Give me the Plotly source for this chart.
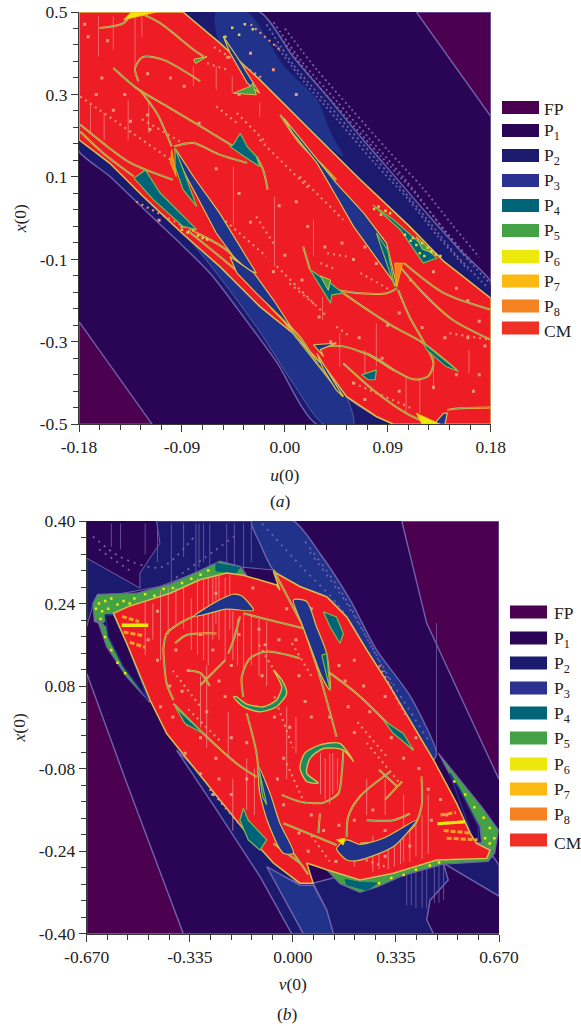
import plotly.graph_objects as go

# All coordinates are (initial velocity, initial displacement) in thousandths.
W, H = 581, 1026
LEGEND_LABELS = ["FP", "P<sub>1</sub>", "P<sub>2</sub>", "P<sub>3</sub>", "P<sub>4</sub>", "P<sub>5</sub>", "P<sub>6</sub>", "P<sub>7</sub>", "P<sub>8</sub>", "CM"]
LEGEND_COLORS = ["#4b0050", "#2a0555", "#1c1a6e", "#2a3190", "#006478", "#45a145", "#ece80c", "#fdb913", "#f58220", "#ee3124"]
FP, P1, P2, _P3, P4, P5, P6, P7, P8 = LEGEND_COLORS[:9]
P3 = "#20328a"
CM = "#ee1c25"
LAV = "#6f62a8"

# ---------- panel (a) ----------
A_XTICKS = [-0.18, -0.09, 0.0, 0.09, 0.18]
A_XLABELS = ["-0.18", "-0.09", "0.00", "0.09", "0.18"]
A_YTICKS = [0.5, 0.3, 0.1, -0.1, -0.3, -0.5]
A_YLABELS = ["0.5", "0.3", "0.1", "-0.1", "-0.3", "-0.5"]
A_FP1 = [(115, 500), (180, 500), (180, 247)]
A_FP2 = [(-180, -251), (-180, -500), (-116, -500)]
A_UP2 = [(-89, 500), (-22, 500), (7, 392), (37, 295), (66, 198), (95, 105), (124, 12), (153, -77), (180, -154), (180, -194), (139, -105), (109, -20), (66, 93), (25, 206), (-22, 336), (-57, 425)]
A_UP3 = [(-60, 500), (-33, 500), (-1, 368), (28, 287), (40, 206), (51, 150), (25, 206), (-22, 336), (-57, 425)]
A_LO2 = [(-180, 190), (-153, 133), (-124, 53), (-90, -36), (-57, -117), (-22, -214), (7, -279), (37, -368), (54, -433), (80, -481), (95, -500), (28, -500), (-7, -350), (-36, -240), (-65, -135), (-95, -52), (-124, 24), (-153, 101), (-180, 162)]
A_LO3 = [(-109, 12), (-80, -64), (-51, -165), (-22, -275), (7, -400), (34, -500), (60, -500), (54, -433), (37, -368), (7, -279), (-22, -214), (-57, -117), (-90, -36)]
A_CM = [(-180, 500), (-89, 500), (-57, 425), (-22, 336), (25, 206), (66, 93), (109, -20), (139, -105), (180, -194), (180, -500), (95, -500), (80, -481), (54, -433), (37, -368), (7, -279), (-22, -214), (-57, -117), (-90, -36), (-124, 53), (-153, 133), (-180, 190)]
A_BLUE = [
    [(-96, 170), (-80, 101), (-57, 12), (-39, -69), (-25, -133), (-33, -125), (-45, -93), (-60, -36), (-74, 36), (-86, 101), (-95, 154)],
    [(-1, 243), (28, 142), (45, 85), (69, 12), (89, -61), (98, -166), (77, -85), (60, -20), (45, 53), (28, 134), (7, 206)],
    [(-48, -93), (-27, -133), (-10, -198), (7, -271), (-4, -239), (-25, -182), (-42, -133)],
    [(25, -307), (45, -303), (31, -319), (34, -336)],
    [(28, -328), (51, -433), (45, -417), (34, -368)],
    [(-54, 441), (-42, 392), (-22, 303), (-33, 328), (-48, 401)],
    [(139, -473), (142, -473), (140, -500), (130, -500)],
]
A_TEAL = [
    [(-96, 170), (-84, 77), (-77, 28), (-89, 69), (-96, 125)],
    [(-132, 97), (-122, 117), (-109, 61), (-77, -28), (-89, -20), (-115, 45)],
    [(77, 32), (95, -4), (133, -97), (121, -109), (101, -28)],
    [(22, -125), (40, -158), (51, -182), (41, -186), (40, -206), (31, -166)],
    [(-45, 178), (-39, 206), (-33, 174), (-25, 150), (-22, 125), (-36, 150), (-48, 174)],
    [(67, -380), (80, -368), (79, -392), (73, -392)],
    [(121, -303), (152, -372), (141, -360), (124, -319)],
    [(80, -36), (90, -77), (96, -166), (89, -109)],
    [(-150, 364), (-130, 316), (-134, 328)],
]
A_GREEN = [
    [(-45, 303), (-30, 320), (-28, 328), (-25, 299)],
    [(-80, 385), (-68, 392), (-78, 375)],
    [(115, -45), (130, -85), (120, -75)],
    [(31, -140), (40, -150), (38, -175)],
]
A_YELLOW = [[(-141, 481), (-134, 500), (-112, 500), (-127, 490)], [(115, -473), (136, -500), (120, -500)]]
A_ORANGE = [[(-99, 166), (-95, 101), (-100, 133)], [(96, -109), (103, -109), (98, -166)]]
A_CURVES = [
    [(-150, 364), (-130, 316), (-103, 271), (-74, 223), (-45, 174)],
    [(-128, 332), (-131, 364), (-124, 391), (-106, 384), (-74, 332)],
    [(-127, 312), (-112, 255), (-99, 174)],
    [(-97, 174), (-80, 182), (-57, 154), (-33, 134)],
    [(-25, 150), (-19, 117), (-15, 69)],
    [(16, -69), (22, -125)],
    [(51, -182), (72, -222), (95, -263), (121, -303), (150, -368)],
    [(45, -174), (66, -182), (89, -182), (98, -170)],
    [(99, -174), (109, -239), (122, -303), (130, -352), (125, -384), (112, -391), (95, -368), (72, -328)],
    [(-179, 227), (-159, 182), (-135, 134), (-98, 93)],
    [(-179, 210), (-159, 158), (-132, 101)],
    [(-77, -36), (-51, -77), (-22, -166), (4, -267), (28, -352), (51, -433)],
    [(-85, -30), (-57, -93), (-33, -150), (-10, -223), (13, -288), (28, -352)],
    [(51, -352), (77, -416), (106, -473), (124, -497)],
    [(-162, 461), (-141, 473), (-134, 498)],
    [(-127, 498), (-109, 473), (-80, 409), (-71, 392)],
    [(-4, 251), (13, 182), (34, 125), (45, 93)],
    [(98, -109), (121, -182), (147, -247), (180, -295)],
    [(104, -109), (139, -182), (180, -222)],
    [(142, -465), (153, -461), (180, -459)],
    [(30, -311), (51, -311), (80, -340), (95, -368)],
]
A_DOTTED = [
    [(-60, 271), (-42, 231)], [(-42, 255), (-16, 182)], [(-22, 190), (22, 69)], [(13, 101), (51, -4)],
    [(-25, 4), (-10, -61)], [(-60, 12), (-16, -93)], [(-7, -117), (37, -239)], [(4, -158), (28, -214)],
    [(45, -263), (57, -287)], [(-179, 295), (-100, 142)], [(66, -133), (92, -174)], [(-68, 376), (-51, 360)],
    [(37, -85), (54, -93)], [(31, -109), (45, -125)], [(144, -279), (180, -295)], [(-125, 240), (-85, 175)],
    [(-62, 415), (-20, 340)], [(-30, 470), (-5, 410)], [(-130, 40), (-60, -60)], [(60, -400), (110, -460)],
]
A_NOISE = [
    [(-10, 475), (15, 380), (45, 285), (75, 190), (105, 95), (130, 5), (155, -85), (180, -160)],
    [(-16, 470), (8, 370), (38, 275), (68, 180), (98, 85), (125, -5), (150, -90), (178, -170)],
    [(-4, 440), (22, 345), (52, 250), (84, 150), (114, 60), (140, -30), (165, -110)],
    [(-8, 420), (17, 330), (47, 235), (78, 135), (108, 45), (134, -45), (160, -125)],
    [(0, 460), (28, 360), (58, 265), (90, 165), (120, 75), (146, -15), (170, -95)],
]
A_SPECK = [(82, 28), (78, 22), (88, 18), (92, 12), (84, 8), (110, -55), (115, -65), (120, -60), (125, -72), (128, -80), (118, -85), (132, -88), (136, -92), (122, -92), (105, -40), (112, -48), (-85, -35), (-80, -30), (-76, -42), (-72, -48), (-90, -28), (-68, -52), (-52, 440), (-46, 462), (-40, 445), (-35, 470), (-28, 458)]
A_DOTS = [(-165, 300), (-150, 262), (-135, 235), (-118, 215), (-160, 340), (-140, 300), (-120, 250), (-75, 230), (-50, 390), (-30, 400), (-10, 360), (-40, 300), (10, 300), (-60, 120), (-40, 60), (-30, -10), (-5, 30), (10, 40), (20, -20), (35, -70), (50, -60), (70, -70), (60, -100), (80, -110), (85, -50), (75, -30), (110, -150), (130, -130), (150, -170), (160, -200), (170, -250), (100, -230), (90, -260), (120, -265), (140, -290), (160, -290), (175, -310), (170, -380), (165, -420), (150, -380), (130, -410), (100, -420), (70, -440), (60, -400), (30, -240), (40, -300), (65, -290), (85, -340), (-90, -20), (-110, -5), (-30, -150), (-10, -130), (0, -90), (15, -150), (-172, 440), (-175, 470), (-155, 430), (-120, 350), (-100, 340), (-88, 320)]
A_STREAKS = [(-163, 490, 392), (-150, 490, 409), (-131, 490, 368), (-125, 490, 440), (-119, 287, 206), (-80, 368, 320), (-60, 368, 312), (-46, 344, 303), (-45, 125, -20), (-9, 52, -117), (25, -4, -93), (33, -190, -247), (48, -279, -360), (70, -319, -380), (80, -255, -360), (106, -384, -473), (118, -392, -473), (130, -336, -416), (161, -319, -376), (-22, 280, 247), (-170, 280, 206), (-158, 255, 190), (-137, 287, 190)]

# ---------- panel (b) ----------
B_XTICKS = [-0.67, -0.335, 0.0, 0.335, 0.67]
B_XLABELS = ["-0.670", "-0.335", "0.000", "0.335", "0.670"]
B_YTICKS = [0.40, 0.24, 0.08, -0.08, -0.24, -0.40]
B_YLABELS = ["0.40", "0.24", "0.08", "-0.08", "-0.24", "-0.40"]
B_FP1 = [(354, 400), (670, 400), (670, -101), (565, 34), (435, 202)]
B_FP2 = [(-670, 105), (-540, -108), (-356, -400), (-670, -400)]
B_P2T = [(-443, 400), (-432, 357), (-497, 299), (-497, 270), (-670, 328), (-670, 195), (-643, 250), (-432, 273), (-248, 315), (-63, 305), (-107, 357), (-134, 400)]
B_P3T = [(-134, 400), (2, 400), (88, 337), (186, 247), (272, 150), (381, 61), (467, -50), (457, -63), (392, 1), (316, 79), (240, 150), (175, 214), (110, 253), (23, 273), (-63, 305), (-107, 357)]
B_P2L = [(-378, -44), (-248, -160), (-107, -289), (-4, -400), (34, -400), (-63, -283), (23, -302), (-63, -263), (-150, -205), (-237, -141), (-323, -76)]
B_P3L = [(-85, -270), (23, -306), (66, -306), (110, -354), (137, -400), (34, -400)]
B_P2B = [(66, -302), (142, -290), (218, -315), (359, -284), (489, -262), (652, -251), (670, -267), (670, -327), (489, -263), (505, -296), (446, -335), (435, -373), (457, -400), (132, -400), (110, -354)]
B_RIM = [
    [(-650, 240), (-635, 258), (-508, 260), (-399, 278), (-302, 304), (-237, 322), (-172, 312), (-150, 295), (-215, 299), (-302, 286), (-399, 260), (-529, 234), (-583, 221), (-621, 200), (-645, 205)],
    [(560, -225), (641, -222), (656, -244), (635, -260), (489, -265), (359, -287), (272, -310), (218, -320), (153, -303), (110, -276), (218, -296), (327, -283), (467, -257)],
    [(473, -50), (543, -102), (614, -154), (668, -199), (656, -244), (614, -225), (608, -192), (543, -128)],
    [(-637, 211), (-605, 156), (-540, 98), (-464, 48), (-540, 124), (-600, 190)],
]
B_RIM_TEAL = [[(-250, 318), (-172, 310), (-185, 299), (-250, 303)], [(175, -305), (240, -316), (275, -302), (215, -300), (170, -295)]]
B_HOLES = [
    [(-610, 218), (-583, 218), (-540, 163), (-470, 53), (-551, 118), (-600, 176)],
    [(510, -89), (587, -218), (603, -220), (603, -192), (543, -121)],
]
B_CM = [(-535, 234), (-399, 260), (-302, 286), (-215, 299), (-161, 295), (-53, 276), (-42, 266), (-63, 302), (23, 273), (110, 253), (175, 214), (240, 150), (316, 79), (392, 1), (457, -63), (532, -147), (576, -205), (597, -225), (641, -238), (630, -254), (467, -257), (327, -283), (218, -296), (110, -276), (45, -263), (66, -302), (23, -302), (-63, -263), (-150, -205), (-237, -141), (-323, -76), (-410, -12), (-464, 53), (-540, 163), (-583, 221)]
B_BLUE = [
    [(-323, 215), (-248, 244), (-193, 258), (-167, 255), (-128, 227), (-215, 229), (-291, 218)],
    [(2, 247), (45, 244), (77, 195), (110, 143), (121, 72), (94, 98), (61, 150), (29, 201)],
    [(-112, -76), (-74, -128), (-42, -186), (2, -244), (-31, -244), (-80, -186), (-107, -128)],
    [(142, -235), (175, -218), (218, -227), (294, -215), (402, -180), (327, -231), (213, -258), (175, -257)],
]
B_TEAL = [
    [(99, 224), (142, 214), (164, 182), (153, 163), (121, 195)],
    [(-161, -157), (-145, -180), (-85, -218), (-107, -238), (-145, -218), (-172, -180)],
    [(-383, 40), (-291, -12), (-350, 7)],
    [(294, 14), (359, -12), (392, -44), (327, -12)],
    [(94, 140), (110, 143), (121, 72)],
    [(-112, -76), (-98, -135), (-85, -150)],
]
B_CRESC = [
    [(-63, 111), (-36, 92), (-20, 66), (-53, 40), (-107, 30), (-161, 40), (-193, 59), (-183, 59), (-150, 45), (-96, 40), (-53, 53), (-36, 78), (-53, 101)],
    [(23, -79), (39, -50), (88, -34), (153, -31), (197, -66), (164, -44), (99, -41), (56, -60), (45, -89), (83, -108), (45, -105)],
]
B_YELLOW = [[(142, -218), (170, -215), (164, -228)]]
B_FEATHER = [
    [(-556, 198), (-470, 198)], [(-550, 185), (-490, 178)], [(-530, 165), (-480, 155)], [(-555, 215), (-500, 205)],
    [(470, -187), (560, -183)], [(480, -170), (530, -165)], [(490, -200), (580, -205)], [(500, -215), (600, -218)],
]
B_CURVES = [
    [(-161, 59), (-166, 98), (-139, 134), (-85, 147), (23, 134)],
    [(164, -44), (159, -89), (148, -128), (99, -146), (23, -144), (-36, -131)],
    [(-421, 150), (-410, 182), (-367, 202), (-323, 215)],
    [(-421, 150), (-410, 85), (-388, 53)],
    [(-383, 163), (-345, 179), (-248, 182)],
    [(-172, 215), (-193, 169), (-210, 143)],
    [(-161, 221), (-96, 211), (34, 192)],
    [(34, 195), (88, 98), (142, -18)],
    [(-150, 27), (-118, -50), (-107, -128)],
    [(-388, 46), (-291, -12), (-183, -70), (-118, -96)],
    [(121, 105), (218, 60), (392, -44)],
    [(418, -95), (418, -154), (392, -192), (327, -218), (218, -225)],
    [(175, -212), (180, -173), (218, -134), (316, -86)],
    [(240, -180), (327, -180), (381, -167)],
    [(-31, -186), (77, -212), (142, -228)],
    [(88, -167), (83, -205)],
    [(-63, -225), (23, -263)],
    [(-63, 305), (34, 195)],
    [(2, -244), (50, -285)],
    [(-340, 110), (-300, 105), (-270, 80)],
    [(-300, 82), (-220, 130)],
    [(280, -82), (340, -115)],
    [(300, -140), (355, -105)],
]
B_DOTTED = [
    [(-390, 110), (-300, 40)], [(-340, 35), (-230, -30)], [(-60, 60), (0, -40)], [(-20, -70), (40, -150)],
    [(-110, 160), (-40, 90)], [(210, 10), (310, -60)], [(240, -30), (350, -110)], [(60, 100), (-10, 170)],
    [(-270, -120), (-170, -190)], [(280, 120), (370, 20)], [(60, -210), (120, -260)], [(200, -250), (300, -270)],
]
B_NOISE = [
    [(-650, 370), (-560, 330), (-430, 310), (-320, 370)], [(-630, 345), (-520, 300)],
    [(-100, 395), (30, 310), (150, 235), (270, 120)], [(40, 360), (160, 260), (300, 110), (440, -25)],
    [(-380, 290), (-260, 340), (-190, 370)], [(55, 340), (175, 240), (320, 85)],
]
B_SPECK = [(-630, 240), (-610, 245), (-590, 250), (-570, 238), (-550, 245), (-530, 240), (-620, 225), (-600, 230), (-640, 230), (-515, 250), (-480, 258), (-450, 255), (-420, 268), (-390, 270), (-360, 280), (-330, 288), (-300, 296), (-275, 304), (-625, 210), (-610, 175), (-590, 150), (-570, 125), (-545, 105), (525, -105), (560, -130), (590, -155), (620, -175), (640, -195), (655, -215), (640, -225), (625, -215), (600, -235), (580, -240), (560, -245), (540, -250), (520, -248), (500, -255), (610, -240), (620, -250), (590, -248), (570, -232), (635, -240), (475, -262), (445, -268), (400, -276), (360, -286), (320, -292), (280, -302)]
B_DOTS = [(-440, 130), (-380, 150), (-340, 110), (-300, 180), (-260, 150), (-200, 120), (-220, 60), (-280, 30), (-340, 5), (-250, -60), (-200, -20), (-150, -30), (-120, 40), (-100, 100), (-60, 20), (-30, -60), (-10, 0), (40, 50), (60, 20), (20, 100), (120, 20), (180, 40), (200, -10), (250, 30), (300, 60), (320, -20), (360, -60), (400, -20), (440, -120), (480, -140), (500, -170), (260, -160), (300, -200), (200, -180), (150, -190), (100, -200), (50, -240), (-50, -100), (-30, -150), (-150, -100), (-200, -130), (-260, -130), (-300, -90), (-350, -50), (-400, 80), (-430, 40), (-470, 170), (-440, 225), (150, 120), (200, 130), (140, -260), (300, -250), (-90, 160), (-110, 190), (-250, 260), (-130, 270), (60, 230), (-300, -20), (-240, -100), (-390, 20), (-360, 70), (-240, 90), (-175, 180), (-20, 230), (10, 170), (-45, 170), (170, 90), (230, 80), (410, -80), (450, -180), (380, -230), (60, -170), (20, -205)]
B_STREAKS = [(-480, 245, 140), (-430, 265, 130), (-380, 270, 200), (-330, 250, 150), (-290, 285, 130), (-260, 290, 170), (-240, 295, 170), (-220, 290, 130), (-195, 225, 130), (-160, 220, 110), (-135, 220, 120), (-110, 210, 100), (-85, 205, 80), (-300, 100, 0), (-280, 120, -40), (-195, -100, -200), (-210, 30, -60), (-20, 40, -100), (10, 20, -50), (90, -50, -130), (120, -50, -150), (145, -60, -120), (200, -230, -270), (260, -210, -280), (330, -210, -270), (360, -130, -260), (400, -180, -250), (440, -130, -245), (240, -100, -170), (300, -100, -170), (-455, 240, 170), (-405, 270, 180), (-355, 270, 190), (-310, 290, 140), (-275, 290, 120), (-250, 295, 200), (-205, 295, 190), (-180, 210, 120), (-150, -60, -160), (-125, -80, -170), (105, -60, -140), (130, -50, -130), (280, -220, -275), (310, -220, -275), (350, -205, -265), (380, -190, -260), (420, -170, -255)]
B_LAVSTREAKS = [(-590, 395, 350), (-560, 395, 345), (-480, 395, 335), (-440, 395, 320), (-395, 395, 280), (-355, 395, 330), (-315, 395, 290), (-305, 395, 310), (-290, 395, 320), (-270, 395, 300), (-215, 395, 310), (-190, 395, 300), (-160, 395, 300), (-135, 395, 320), (370, -265, -345), (385, -265, -345), (400, -265, -350), (420, -265, -350), (435, -265, -350), (460, -265, -340), (475, -265, -340), (490, -265, -335), (467, 202, -50)]

def k(p):
    return [v[0] / 1000 for v in p] + [p[0][0] / 1000], [v[1] / 1000 for v in p] + [p[0][1] / 1000]

fig = go.Figure()
def poly(p, fill, ax, line=None, w=1.0, smooth=False):
    x, y = k(p)
    ln = dict(color=line or fill, width=w)
    if smooth:
        ln.update(shape="spline", smoothing=0.7)
    fig.add_trace(go.Scatter(x=x, y=y, xaxis=ax[0], yaxis=ax[1], mode="lines", fill="toself", fillcolor=fill,
                             line=ln, hoverinfo="skip", showlegend=False))
def path(p, color, w, ax, dash=None):
    fig.add_trace(go.Scatter(x=[v[0] / 1000 for v in p], y=[v[1] / 1000 for v in p], xaxis=ax[0], yaxis=ax[1], mode="lines",
                             line=dict(color=color, width=w, dash=dash, shape="spline", smoothing=0.8), hoverinfo="skip", showlegend=False))
def curve(p, ax):
    path(p, "#eebc4a", 2.0, ax)
    path(p, "#3f9a68", 0.7, ax)
def dots(p, ax, color="#f29478", size=3):
    fig.add_trace(go.Scatter(x=[v[0] / 1000 for v in p], y=[v[1] / 1000 for v in p], xaxis=ax[0], yaxis=ax[1], mode="markers",
                             marker=dict(symbol="square", size=size, color=color), hoverinfo="skip", showlegend=False))
def streaks(s, ax, color, w=0.7):
    xs, ys = [], []
    for u, a, b in s:
        xs += [u / 1000, u / 1000, None]
        ys += [a / 1000, b / 1000, None]
    fig.add_trace(go.Scatter(x=xs, y=ys, xaxis=ax[0], yaxis=ax[1], mode="lines", line=dict(color=color, width=w), hoverinfo="skip", showlegend=False))

# Panel a layers
a = ("x", "y")
EDGE = "#d8c050"
poly(A_FP1, FP, a, LAV, 1.4)
poly(A_FP2, FP, a, LAV, 1.4)
poly(A_UP2, P2, a, LAV, 1.4, True)
for n in A_NOISE:
    path(n, LAV, 1.8, a, "2px,3px")
poly(A_UP3, P3, a, smooth=True)
poly(A_LO2, P2, a, LAV, 1.4, True)
poly(A_LO3, P3, a, LAV, 0.8, True)
poly(A_CM, CM, a, EDGE, 1.5)
streaks(A_STREAKS, a, "#f58a8a")
for d in A_DOTTED:
    path(d, "#f0906a", 2.2, a, "2px,4px")
dots(A_DOTS, a)
for c in A_CURVES:
    curve(c, a)
for b in A_BLUE:
    poly(b, P3, a, EDGE, 1.2)
for t in A_TEAL:
    poly(t, P4, a, "#7fb84e", 1.2)
for g in A_GREEN:
    poly(g, P5, a, EDGE, 1)
for o in A_ORANGE:
    poly(o, P8, a, P7, 0.8)
for y_ in A_YELLOW:
    poly(y_, P6, a, P7, 1)
dots(A_SPECK, a, "#d8d840", 2.5)

# Panel b layers
b_ = ("x2", "y2")
poly(B_FP1, FP, b_, LAV, 1.4)
poly(B_FP2, FP, b_, LAV, 1.4)
poly(B_P2T, P2, b_, LAV, 1.0)
poly(B_P3T, P3, b_, LAV, 1.4, True)
poly(B_P2L, P2, b_, LAV, 1.4)
poly(B_P3L, P3, b_, LAV, 1.4)
poly(B_P2B, P2, b_, LAV, 1.4)
streaks(B_LAVSTREAKS, b_, "#6f62a8", 0.8)
for n in B_NOISE:
    path(n, LAV, 1.8, b_, "2px,5px")
for r in B_RIM:
    poly(r, P5, b_, LAV, 1.2)
for t in B_RIM_TEAL:
    poly(t, P4, b_)
for h in B_HOLES:
    poly(h, P1, b_, P3, 1.6)
dots(B_SPECK, b_, P6, 2.5)
poly(B_CM, CM, b_, EDGE, 1.5)
for f in B_FEATHER:
    path(f, "#f6a02a", 3, b_, "5px,2px")
path(B_FEATHER[0], P6, 3.5, b_)
path(B_FEATHER[4], P6, 3, b_)
streaks(B_STREAKS, b_, "#f79a9a")
for d in B_DOTTED:
    path(d, "#f0906a", 2.2, b_, "2px,4px")
dots(B_DOTS, b_)
for c in B_CURVES:
    curve(c, b_)
for p in B_BLUE:
    poly(p, P3, b_, EDGE, 1.2, True)
for t in B_TEAL:
    poly(t, P4, b_, "#7fb84e", 1.2)
for c in B_CRESC:
    poly(c, "#1f8a60", b_, "#cfc24e", 1.4, True)
for y_ in B_YELLOW:
    poly(y_, P6, b_, P7, 1)

FONT = "Liberation Serif, Times New Roman, Times, serif"
INK = "#3a3a3a"
def axis(dom, rng, tv, tl, step, anchor, title, standoff):
    return dict(domain=dom, range=rng, tickvals=tv, ticktext=tl, ticks="outside", ticklen=7, tickwidth=1.1, tickcolor=INK,
                minor=dict(dtick=step, tick0=rng[0], ticks="outside", ticklen=5, tickwidth=1.1, tickcolor=INK),
                showgrid=False, zeroline=False, showline=True, linecolor=INK, linewidth=1.1, anchor=anchor, automargin=False,
                tickfont=dict(family=FONT, size=17.5, color="#222"),
                title=dict(text=title, font=dict(family=FONT, size=17.5, color="#222"), standoff=standoff))
fig.update_layout(
    width=W, height=H, autosize=False, paper_bgcolor="white", plot_bgcolor=P1, showlegend=False,
    margin=dict(l=0, r=0, t=0, b=0, pad=0),
    font=dict(family=FONT),
    xaxis=axis([79 / W, 490.7 / W], [-0.18, 0.18], A_XTICKS, A_XLABELS, 0.018, "y", "<i>u</i>(0)", 12),
    yaxis=axis([1 - 424.3 / H, 1 - 12 / H], [-0.5, 0.5], A_YTICKS, A_YLABELS, 0.04, "x", "<i>x</i>(0)", 8),
    xaxis2=axis([86.7 / W, 499 / W], [-0.67, 0.67], B_XTICKS, B_XLABELS, 0.067, "y2", "<i>v</i>(0)", 11),
    yaxis2=axis([1 - 933.7 / H, 1 - 521 / H], [-0.4, 0.4], B_YTICKS, B_YLABELS, 0.032, "x2", "<i>x</i>(0)", 8),
)
shapes, notes = [], []
LEG_A_Y = [107.5, 130.5, 155.5, 180.5, 205.5, 230.5, 256.5, 281, 306, 328]
LEG_B_Y = [612, 638, 663, 688, 713, 738, 764, 789, 814, 840]
for ys, x0, x1, tx in [(LEG_A_Y, 502, 539, 542), (LEG_B_Y, 510, 547, 552)]:
    for yy, lab, col in zip(ys, LEGEND_LABELS, LEGEND_COLORS):
        shapes.append(dict(type="rect", xref="paper", yref="paper", x0=x0 / W, x1=x1 / W, y0=1 - (yy + 6.5) / H, y1=1 - (yy - 6.5) / H, fillcolor=col, line=dict(width=0)))
        notes.append(dict(text=lab, xref="paper", yref="paper", x=tx / W, y=1 - (yy + (3 if lab == "CM" else 1)) / H, xanchor="left", yanchor="middle", showarrow=False, font=dict(family=FONT, size=17.5, color="#222")))
for txt, px, py in [("(<i>a</i>)", 280, 501), ("(<i>b</i>)", 287, 1014)]:
    notes.append(dict(text=txt, xref="paper", yref="paper", x=px / W, y=1 - py / H, xanchor="center", yanchor="middle", showarrow=False, font=dict(family=FONT, size=17.5, color="#222")))
fig.update_layout(shapes=shapes, annotations=notes)
fig.write_html("out.html", config=dict(displayModeBar=False), post_script="document.body.style.margin='0';")
